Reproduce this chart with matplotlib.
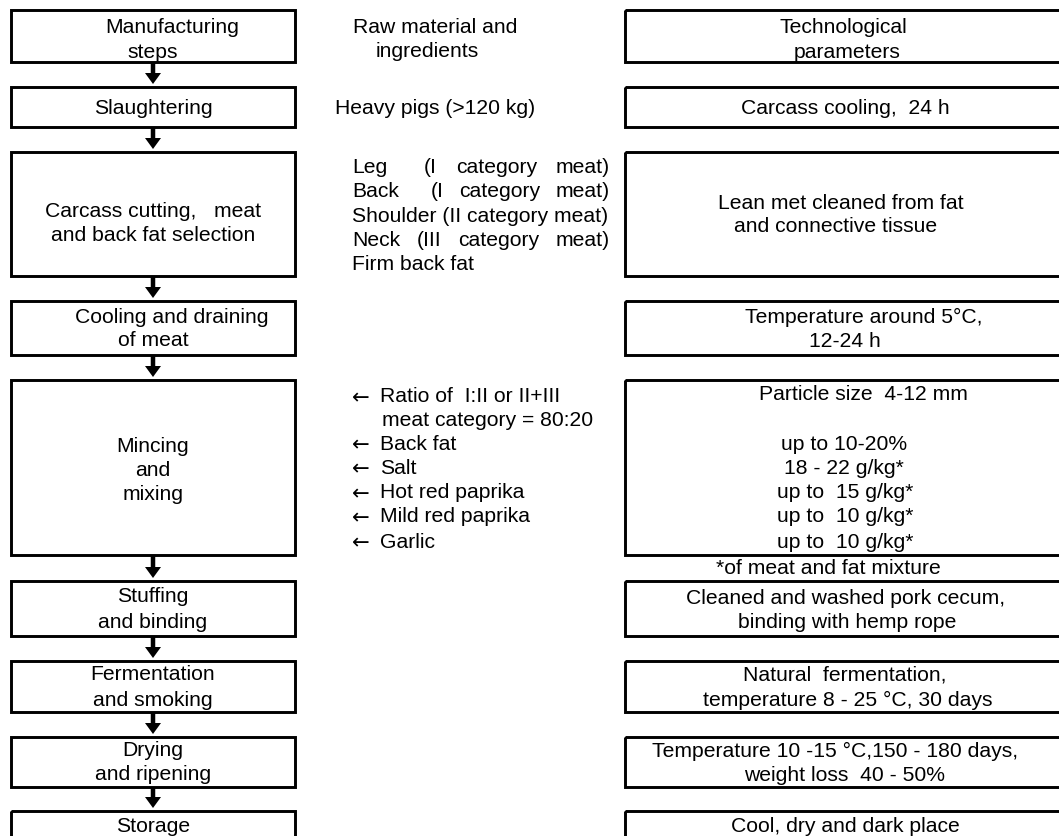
import matplotlib
matplotlib.use("Agg")
import matplotlib.pyplot as plt
from matplotlib.patches import Rectangle, FancyArrow

plt.rcParams['font.family'] = ['Liberation Sans', 'DejaVu Sans']

# ---------------- data (texts) ----------------
step_lines = [
    ["Manufacturing", "steps"],
    ["Slaughtering"],
    ["Carcass cutting,   meat", "and back fat selection"],
    ["Cooling and draining", "of meat"],
    ["Mincing", "and", "mixing"],
    ["Stuffing", "and binding"],
    ["Fermentation", "and smoking"],
    ["Drying", "and ripening"],
    ["Storage"],
]
raw_header = ["Raw material and", "ingredients"]
raw_slaughter = "Heavy pigs (>120 kg)"
cut_parts = [
    ["Leg", "(I", "category", "meat)"],
    ["Back", "(I", "category", "meat)"],
    ["Shoulder (II category meat)"],
    ["Neck", "(III", "category", "meat)"],
    ["Firm back fat"],
]
mix_ingredients = [
    "Ratio of  I:II or II+III",
    "meat category = 80:20",
    "Back fat",
    "Salt",
    "Hot red paprika",
    "Mild red paprika",
    "Garlic",
]
mix_has_arrow = [True, False, True, True, True, True, True]
param_lines = [
    ["Technological", "parameters"],
    ["Carcass cooling,  24 h"],
    ["Lean met cleaned from fat", "and connective tissue"],
    ["Temperature around 5\u00b0C,", "12-24 h"],
    ["Particle size  4-12 mm", "", "up to 10-20%", "18 - 22 g/kg*",
     "up to  15 g/kg*", "up to  10 g/kg*", "up to  10 g/kg*"],
    ["Cleaned and washed pork cecum,", "binding with hemp rope"],
    ["Natural  fermentation,", "temperature 8 - 25 \u00b0C, 30 days"],
    ["Temperature 10 -15 \u00b0C,150 - 180 days,", "weight loss  40 - 50%"],
    ["Cool, dry and dark place"],
]
footnote = "*of meat and fat mixture"

# ---------------- layout ----------------
W, H = 1059, 837
fig = plt.figure(figsize=(W / 100, H / 100), dpi=100)
ax = fig.add_axes([0, 0, 1, 1])
ax.set_xlim(0, W)
ax.set_ylim(H, 0)
ax.axis('off')

FS = 15.2
LW = 2.1
box_rows = [(11, 63), (88, 128), (153, 277), (302, 356), (381, 556),
            (582, 637), (662, 713), (738, 788), (812, 860)]
LX0, LX1 = 11, 295
RX0, RX1 = 625, 1075
CX = 153

def txt(x, y, s, ha='center', **kw):
    ax.text(x, y, s, fontsize=FS, ha=ha, va='center', color='black', **kw)

step_y = [[27, 52], [108], [211, 235], [317, 340], [446, 470, 495],
          [597, 622], [675, 700], [751, 775], [827]]
step_x = [[172, 153], [153], [153, 153], [172, 153], [153, 153, 153],
          [153, 153], [153, 153], [153, 153], [153]]

param_y = [[27, 52], [108], [203, 226], [317, 341],
           [395, 420, 444, 469, 493, 517, 542],
           [599, 623], [675, 700], [751, 776], [827]]
param_x = [[843, 847], [845], [841, 836], [864, 845],
           [863, 845, 844, 844, 845, 845, 845],
           [846, 847], [845, 848], [835, 845], [845]]

for (y0, y1) in box_rows:
    ax.add_patch(Rectangle((LX0, y0), LX1 - LX0, y1 - y0, fill=False,
                           lw=LW, ec='black'))
    ax.add_patch(Rectangle((RX0, y0), RX1 - RX0, y1 - y0, fill=False,
                           lw=LW, ec='black'))

for lines, ys, xs in zip(step_lines, step_y, step_x):
    for s, y, x in zip(lines, ys, xs):
        txt(x, y, s)

for lines, ys, xs in zip(param_lines, param_y, param_x):
    for s, y, x in zip(lines, ys, xs):
        if s:
            txt(x, y, s)

# arrows between step boxes
for (a0, a1), (b0, b1) in zip(box_rows[:-1], box_rows[1:]):
    ax.add_patch(FancyArrow(CX, a1 + 1, 0, (b0 - a1) - 4, width=4.5,
                            head_width=16, head_length=11,
                            length_includes_head=True, color='black', lw=0))

# middle column
txt(435, 27, raw_header[0])
txt(427, 51, raw_header[1])
txt(435, 108, raw_slaughter)

cut_y = [167, 191, 216, 240, 264]
word_x = {0: [352, 424, 456, 556], 1: [352, 431, 459, 556],
          3: [352, 417, 458, 556]}
for i, (parts, y) in enumerate(zip(cut_parts, cut_y)):
    xs = word_x.get(i, [352])
    for s, x in zip(parts, xs):
        txt(x, y, s, ha='left')

mix_y = [397, 420, 444, 468, 493, 517, 542]
for s, y, arr in zip(mix_ingredients, mix_y, mix_has_arrow):
    if arr:
        ax.text(352, y + 1, "\u2190", fontsize=FS, ha='left', va='center',
                family=['DejaVu Sans'], color='black')
    txt(380 if arr else 382, y, s, ha='left')

txt(828, 568, footnote)

fig.savefig("out.png", dpi=100, facecolor='white')
